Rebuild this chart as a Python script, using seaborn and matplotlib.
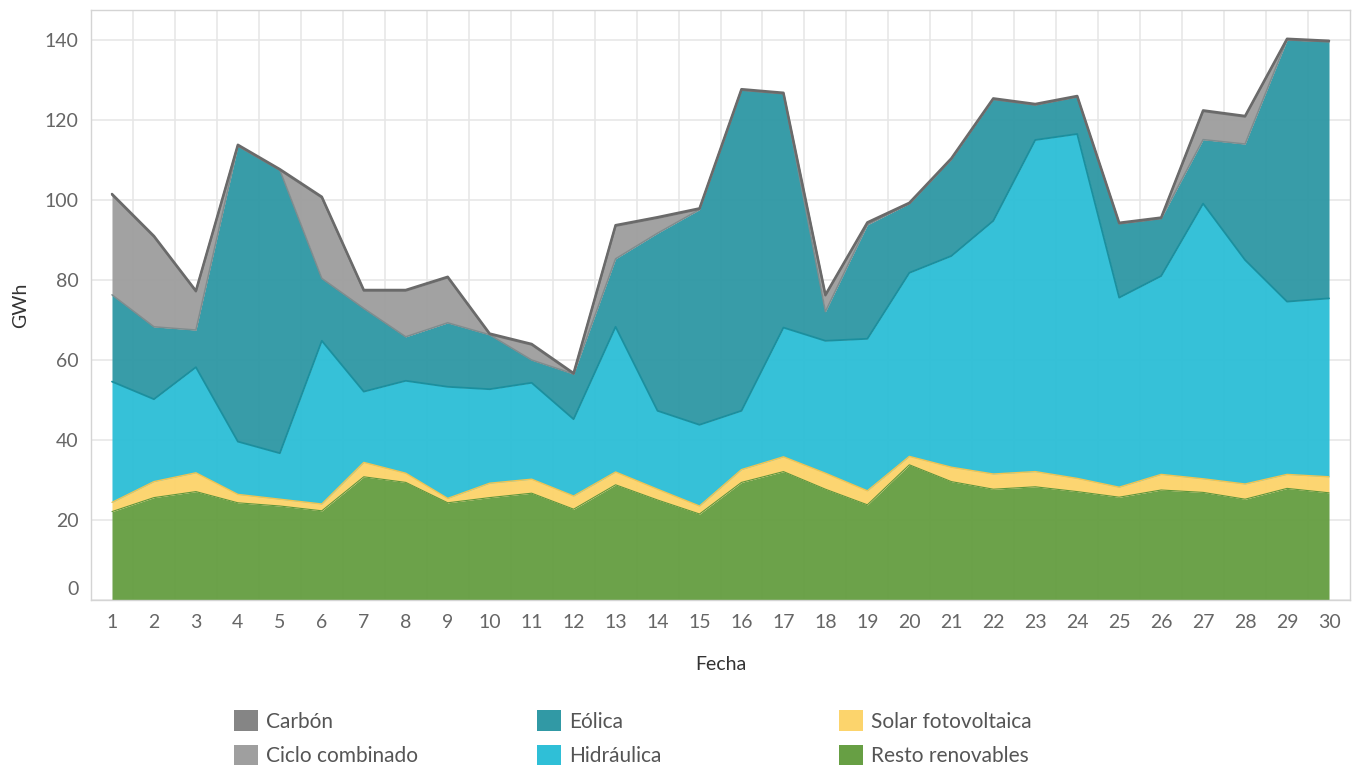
import numpy as np
import pandas as pd
import matplotlib
matplotlib.use("Agg")
import matplotlib.pyplot as plt
import seaborn as sns
from matplotlib.patches import Patch
from matplotlib.transforms import ScaledTranslation

# --- data (GWh per day) ---
days = list(range(1, 31))
resto = [22.1, 25.6, 27.1, 24.3, 23.5, 22.3, 30.8, 29.4, 24.3, 25.6,
         26.7, 22.7, 28.8, 25.0, 21.5, 29.4, 32.1, 27.7, 23.8, 33.8,
         29.6, 27.7, 28.3, 27.1, 25.7, 27.5, 26.9, 25.2, 27.9, 26.8]
solar = [2.3, 4.0, 4.7, 2.1, 1.7, 1.7, 3.6, 2.3, 1.1, 3.6,
         3.5, 3.3, 3.2, 2.7, 2.0, 3.2, 3.7, 4.0, 3.5, 2.1,
         3.6, 3.8, 3.8, 3.3, 2.5, 3.9, 3.4, 3.8, 3.5, 4.0]
hidraulica = [30.2, 20.6, 26.4, 13.2, 11.5, 40.8, 17.7, 23.1, 27.9, 23.5,
              24.1, 19.2, 36.3, 19.6, 20.3, 14.7, 32.3, 33.1, 38.0, 45.9,
              52.8, 63.3, 82.9, 86.1, 47.4, 49.6, 68.8, 56.0, 43.2, 44.6]
eolica = [21.7, 18.1, 9.3, 73.9, 70.8, 15.6, 20.8, 11.0, 16.0, 13.6,
          5.7, 11.3, 17.0, 44.4, 53.8, 80.2, 58.5, 7.3, 28.5, 17.3,
          24.2, 30.4, 8.8, 9.3, 18.5, 14.4, 16.0, 29.0, 65.4, 64.2]
ciclo = [25.0, 22.5, 9.6, 0.1, 0.0, 20.2, 4.4, 11.5, 11.3, 0.1,
         3.8, 0.0, 8.2, 3.8, 0.1, 0.0, 0.0, 4.0, 0.4, 0.0,
         0.0, 0.0, 0.0, 0.0, 0.0, 0.0, 7.1, 6.8, 0.1, 0.0]
carbon = [0.2] * 30

names = ["Resto renovables", "Solar fotovoltaica", "Hidráulica",
         "Eólica", "Ciclo combinado", "Carbón"]
fills = ["#679f44", "#fcd46c", "#2fbfd7", "#3199a5", "#9f9f9f", "#858585"]
edges = ["#5f963c", "#f3c450", "#1b8f9e", "#7f8c8e", "#767676", "#6a6a6a"]
widths = [0.8, 1.0, 1.3, 1.1, 1.4, 1.8]

df = pd.DataFrame({"Fecha": days, names[0]: resto, names[1]: solar,
                   names[2]: hidraulica, names[3]: eolica,
                   names[4]: ciclo, names[5]: carbon})
tops = df[names].cumsum(axis=1)
tops["Fecha"] = df["Fecha"]

sns.set_theme(style="white")
plt.rcParams["font.family"] = ["Lato", "DejaVu Sans"]

fig = plt.figure(figsize=(13.58, 7.65), dpi=100)
ax = fig.add_axes([91 / 1358, 1 - 600 / 765, (1350 - 91) / 1358, 590 / 765])

ax.stackplot(df["Fecha"], *[df[n] for n in names], colors=fills,
             alpha=0.97, linewidth=0, zorder=2)
for n, ec, lw in zip(names, edges, widths):
    sns.lineplot(data=tops, x="Fecha", y=n, color=ec, linewidth=lw,
                 ax=ax, zorder=3)

ax.set_xlim(0.5, 30.5)
ax.set_ylim(0, 147.5)
ax.set_xticks(days)
ax.set_xticks(np.arange(1.5, 30, 1.0), minor=True)
ax.set_yticks(range(0, 141, 20))
ax.set_axisbelow(True)
ax.grid(True, which="minor", axis="x", color="#e6e6e6", linewidth=1.1)
ax.grid(True, which="major", axis="y", color="#e6e6e6", linewidth=1.1)
ax.grid(False, which="major", axis="x")

ax.tick_params(axis="x", which="major", length=0, pad=10, labelsize=14,
               labelcolor="#666666")
ax.tick_params(axis="x", which="minor", length=6, width=1, color="#e0e0e0")
ax.tick_params(axis="y", which="major", length=6, width=1, color="#e0e0e0",
               pad=3, labelsize=14, labelcolor="#666666")

for s in ax.spines.values():
    s.set_color("#d4d4d4")
    s.set_linewidth(1)

ax.set_xlabel("Fecha", fontsize=14, color="#333333", labelpad=18)
ax.set_ylabel("GWh", fontsize=14, color="#333333", labelpad=11)

# lift the 0 label like the original
t0 = ax.yaxis.get_major_ticks()[0].label1
t0.set_transform(t0.get_transform() + ScaledTranslation(0, 0.12, fig.dpi_scale_trans))

# legend: three fixed-width columns
order = [[5, 4], [3, 2], [1, 0]]
xs = [234, 537, 839]
for col, x in zip(order, xs):
    handles = [Patch(facecolor=fills[i], edgecolor="none", label=names[i]) for i in col]
    leg = fig.legend(handles=handles, loc="upper left",
                     bbox_to_anchor=(x / 1358, 1 - 710 / 765),
                     frameon=False, fontsize=15, handlelength=1.15,
                     handleheight=1.2, handletextpad=0.4, labelspacing=0.62,
                     borderpad=0, borderaxespad=0)
    for t in leg.get_texts():
        t.set_color("#555555")

fig.savefig("out.png", dpi=100)
